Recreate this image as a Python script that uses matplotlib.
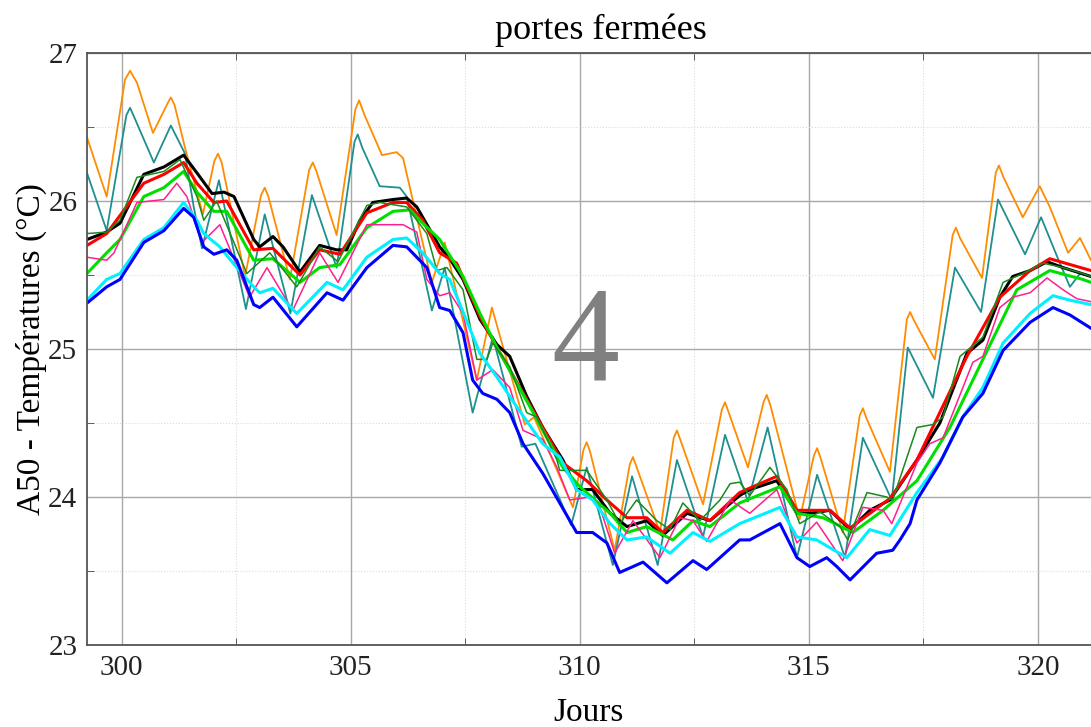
import matplotlib
matplotlib.use("Agg")
import matplotlib.pyplot as plt
from matplotlib.ticker import MultipleLocator

# ---- data (days, °C) ----
orange_x = [299.24, 299.67, 300.07, 300.18, 300.33, 300.68, 301.00, 301.07, 301.15, 301.38, 301.77, 302.02,
            302.10, 302.18, 302.69, 303.04, 303.12, 303.20, 303.67, 304.09, 304.17, 304.25,
            304.69, 305.10, 305.18, 305.30, 305.68, 306.00, 306.14, 306.77, 307.05, 307.75, 308.08, 308.80,
            309.00, 309.85, 310.08, 310.15, 310.22, 310.76, 311.09, 311.16, 311.23, 311.75, 312.05, 312.12,
            312.19, 312.69, 313.10, 313.17, 313.24, 313.67, 314.01, 314.08, 314.16, 314.80, 315.11, 315.18,
            315.25, 315.74, 316.11, 316.18, 316.26, 316.77, 317.14, 317.21, 317.30, 317.75, 318.14, 318.21,
            318.30, 318.78, 319.08, 319.15, 319.25, 319.67, 320.04, 320.26, 320.66, 320.92, 321.16]
orange_y = [26.43, 26.03, 26.82, 26.88, 26.80, 26.46, 26.66, 26.70, 26.65, 26.36, 25.91, 26.27,
            26.32, 26.26, 25.49, 26.04, 26.09, 26.03, 25.47, 26.21, 26.26, 26.20,
            25.77, 26.62, 26.68, 26.58, 26.31, 26.33, 26.29, 25.45, 25.72, 24.79, 25.28, 24.49,
            24.54, 23.93, 24.32, 24.37, 24.31, 23.64, 24.22, 24.27, 24.21, 23.76, 24.40, 24.45,
            24.39, 23.95, 24.59, 24.64, 24.58, 24.20, 24.64, 24.69, 24.62, 23.85, 24.28, 24.33,
            24.27, 23.76, 24.55, 24.60, 24.53, 24.17, 25.20, 25.25, 25.19, 24.93, 25.77, 25.82,
            25.75, 25.48, 26.19, 26.24, 26.16, 25.89, 26.10, 25.96, 25.65, 25.75, 25.60]

teal_x = [299.24, 299.67, 300.10, 300.18, 300.28, 300.70, 301.07, 301.38, 301.57, 301.75, 302.12, 302.71,
          303.12, 303.68, 304.15, 304.69, 305.08, 305.15, 305.25, 305.63, 306.07, 306.22, 306.77, 307.05,
          307.66, 308.10, 308.73, 309.03, 309.81, 310.15, 310.72, 311.14, 311.70, 312.12, 312.69, 313.17,
          313.67, 314.10, 314.74, 315.18, 315.79, 316.18, 316.81, 317.16, 317.71, 318.19, 318.76, 319.13,
          319.72, 320.07, 320.48, 320.70, 320.92, 321.16]
teal_y = [26.19, 25.80, 26.58, 26.63, 26.56, 26.26, 26.51, 26.32, 25.96, 25.68, 26.14, 25.27,
          25.91, 25.24, 26.04, 25.55, 26.40, 26.45, 26.36, 26.10, 26.09, 26.03, 25.26, 25.55,
          24.57, 25.08, 24.34, 24.36, 23.81, 24.20, 23.54, 24.14, 23.54, 24.25, 23.73, 24.42,
          23.97, 24.47, 23.59, 24.15, 23.59, 24.40, 23.98, 25.01, 24.67, 25.55, 25.25, 26.01,
          25.64, 25.89, 25.58, 25.42, 25.51, 25.49]

black_x = [299.24, 299.67, 299.96, 300.48, 300.92, 301.35, 301.64, 301.97, 302.23, 302.45, 302.88, 303.01,
           303.30, 303.52, 303.89, 304.32, 304.69, 304.91, 305.20, 305.48, 305.92, 306.22, 306.44, 306.94,
           307.16, 307.45, 307.82, 308.19, 308.47, 308.84, 309.19, 309.63, 309.93, 310.28, 310.66, 311.03,
           311.46, 311.81, 312.34, 312.84, 313.49, 313.71, 314.30, 314.74, 315.02, 315.46, 315.90, 316.33,
           316.77, 317.36, 317.86, 318.45, 318.80, 319.17, 319.45, 319.83, 320.20, 320.55, 321.16]
black_y = [25.74, 25.79, 25.85, 26.18, 26.23, 26.31, 26.19, 26.05, 26.06, 26.03, 25.74, 25.69,
           25.76, 25.69, 25.52, 25.70, 25.67, 25.67, 25.87, 25.99, 26.01, 26.02, 25.96, 25.69,
           25.61, 25.47, 25.20, 25.03, 24.95, 24.68, 24.47, 24.25, 24.05, 24.05, 23.89, 23.80,
           23.84, 23.74, 23.89, 23.84, 24.01, 24.05, 24.11, 23.89, 23.89, 23.91, 23.78, 23.91,
           23.98, 24.25, 24.50, 24.97, 25.06, 25.35, 25.49, 25.53, 25.59, 25.55, 25.49]

red_x = [299.24, 299.67, 300.48, 300.92, 301.35, 301.64, 302.01, 302.29, 302.88, 303.30, 303.89, 304.32,
         304.76, 305.35, 305.92, 306.22, 306.57, 306.94, 307.31, 307.82, 308.19, 308.84, 309.63, 310.15,
         310.59, 311.03, 311.46, 311.81, 312.34, 312.84, 313.49, 314.30, 314.74, 315.46, 315.90, 316.77,
         317.36, 318.45, 319.17, 319.83, 320.26, 321.16]
red_y = [25.70, 25.78, 26.12, 26.18, 26.26, 26.12, 25.99, 26.00, 25.67, 25.68, 25.50, 25.67,
         25.64, 25.92, 25.99, 25.99, 25.87, 25.65, 25.58, 25.22, 25.01, 24.66, 24.23, 24.11,
         23.98, 23.86, 23.86, 23.76, 23.91, 23.84, 24.03, 24.14, 23.91, 23.91, 23.79, 23.99,
         24.25, 24.95, 25.35, 25.53, 25.61, 25.53]

lime_x = [299.24, 299.67, 299.96, 300.48, 300.92, 301.35, 301.64, 302.01, 302.29, 302.88, 303.30, 303.89,
          304.32, 304.76, 305.35, 305.92, 306.29, 306.57, 306.94, 307.45, 307.82, 308.19, 308.91, 309.63,
          310.00, 310.66, 311.03, 311.46, 312.03, 312.47, 312.84, 313.49, 314.37, 314.74, 315.31, 315.96,
          316.62, 317.36, 318.08, 318.80, 319.54, 320.26, 320.98, 321.16]
lime_y = [25.51, 25.65, 25.74, 26.03, 26.09, 26.20, 26.06, 25.93, 25.93, 25.60, 25.61, 25.45,
          25.55, 25.57, 25.82, 25.93, 25.94, 25.85, 25.74, 25.49, 25.24, 25.01, 24.61, 24.20,
          24.07, 23.89, 23.76, 23.80, 23.71, 23.84, 23.80, 23.96, 24.07, 23.89, 23.86, 23.76,
          23.91, 24.11, 24.47, 24.93, 25.40, 25.53, 25.47, 25.45]

dkgreen_x = [299.24, 299.67, 299.96, 300.33, 300.92, 301.27, 301.64, 301.79, 302.07, 302.73, 303.23, 303.82,
             304.32, 304.72, 305.35, 305.63, 306.22, 306.66, 306.88, 307.10, 307.45, 307.75, 307.97, 308.10,
             308.47, 308.84, 309.06, 309.50, 309.56, 310.15, 310.59, 310.87, 311.24, 311.68, 311.97, 312.25,
             312.62, 313.06, 313.28, 313.49, 313.71, 314.15, 314.52, 314.80, 315.24, 315.68, 315.85, 316.27,
             316.70, 316.83, 317.36, 317.71, 317.93, 318.30, 318.80, 319.24, 319.67, 320.11, 320.55, 320.98,
             321.16]
dkgreen_y = [25.78, 25.79, 25.87, 26.16, 26.20, 26.28, 26.03, 25.87, 26.00, 25.51, 25.65, 25.42,
             25.69, 25.59, 25.97, 25.99, 25.96, 25.78, 25.53, 25.55, 25.40, 24.93, 24.93, 25.04,
             24.88, 24.57, 24.54, 24.25, 24.18, 24.18, 23.98, 23.82, 23.98, 23.84, 23.78, 23.96,
             23.84, 23.98, 24.09, 24.10, 24.01, 24.20, 24.05, 23.82, 23.90, 23.80, 23.71, 24.03,
             24.00, 23.98, 24.47, 24.49, 24.54, 24.95, 25.08, 25.45, 25.51, 25.58, 25.55, 25.51,
             25.49]

pink_x = [299.24, 299.67, 299.83, 300.33, 300.92, 301.20, 301.42, 301.75, 302.14, 302.79, 303.17, 303.73,
          304.32, 304.72, 305.35, 306.14, 306.44, 306.66, 306.94, 307.16, 307.45, 307.75, 308.10, 308.47,
          308.76, 309.19, 309.50, 309.78, 310.22, 310.44, 310.76, 311.16, 311.75, 312.18, 312.47, 312.77,
          313.28, 313.71, 314.30, 314.74, 315.17, 315.74, 316.18, 316.62, 316.81, 317.36, 317.64, 317.93,
          318.58, 318.80, 319.17, 319.45, 319.83, 320.20, 320.55, 320.85, 321.16]
pink_y = [25.62, 25.60, 25.65, 25.99, 26.01, 26.12, 26.03, 25.72, 25.84, 25.35, 25.55, 25.26,
          25.65, 25.45, 25.84, 25.84, 25.79, 25.47, 25.36, 25.38, 25.24, 24.79, 24.86, 24.74,
          24.45, 24.39, 24.20, 23.98, 24.00, 23.93, 23.62, 23.84, 23.59, 23.86, 23.84, 23.70,
          23.98, 23.89, 24.05, 23.69, 23.83, 23.57, 23.93, 23.91, 23.82, 24.23, 24.36, 24.40,
          24.91, 24.95, 25.28, 25.35, 25.38, 25.48, 25.40, 25.34, 25.32]

cyan_x = [299.24, 299.67, 299.96, 300.48, 300.92, 301.35, 301.64, 301.79, 302.14, 302.51, 302.88, 303.01,
          303.30, 303.82, 304.48, 304.83, 305.35, 305.92, 306.22, 306.57, 306.94, 307.16, 307.82, 308.19,
          308.62, 309.19, 309.56, 309.93, 310.28, 310.66, 311.03, 311.46, 311.97, 312.47, 312.84, 313.49,
          314.37, 314.74, 315.17, 315.83, 316.33, 316.77, 317.36, 317.93, 318.36, 318.80, 319.24, 319.83,
          320.33, 320.70, 321.16]
cyan_y = [25.33, 25.47, 25.51, 25.74, 25.82, 25.99, 25.87, 25.78, 25.69, 25.55, 25.42, 25.38,
          25.41, 25.24, 25.45, 25.40, 25.62, 25.74, 25.75, 25.65, 25.51, 25.47, 24.97, 24.81,
          24.61, 24.36, 24.27, 24.05, 23.98, 23.82, 23.71, 23.73, 23.62, 23.76, 23.70, 23.82,
          23.93, 23.73, 23.71, 23.59, 23.78, 23.74, 24.03, 24.27, 24.54, 24.74, 25.04, 25.24,
          25.36, 25.33, 25.30]

blue_x = [299.24, 299.67, 299.96, 300.48, 300.92, 301.35, 301.57, 301.79, 302.01, 302.29, 302.51, 302.88,
          303.01, 303.30, 303.82, 304.48, 304.83, 305.35, 305.92, 306.22, 306.66, 306.94, 307.16, 307.45,
          307.66, 307.88, 308.19, 308.47, 308.76, 309.19, 309.56, 309.93, 310.28, 310.59, 310.87, 311.38,
          311.90, 312.47, 312.77, 313.49, 313.71, 314.37, 314.74, 315.02, 315.39, 315.61, 315.90, 316.48,
          316.83, 316.99, 317.21, 317.36, 317.86, 318.36, 318.80, 319.24, 319.83, 320.33, 320.70, 321.16]
blue_y = [25.31, 25.42, 25.47, 25.72, 25.80, 25.95, 25.89, 25.69, 25.64, 25.67, 25.60, 25.30,
          25.28, 25.35, 25.15, 25.38, 25.33, 25.55, 25.70, 25.69, 25.55, 25.28, 25.26, 25.11,
          24.79, 24.70, 24.66, 24.57, 24.36, 24.16, 23.96, 23.76, 23.76, 23.69, 23.49, 23.56,
          23.42, 23.57, 23.51, 23.71, 23.71, 23.82, 23.59, 23.53, 23.59, 23.53, 23.44, 23.62,
          23.64, 23.71, 23.82, 23.98, 24.23, 24.54, 24.70, 24.99, 25.18, 25.28, 25.23, 25.14]

x_ticks = [300, 305, 310, 315, 320]
y_ticks = [23, 24, 25, 26, 27]
title_text = "portes fermées"
xlabel_text = "Jours"
ylabel_text = "A50 - Températures (°C)"
panel_label = "4"

# ---- figure ----
plt.rcParams['font.family'] = ['Liberation Serif', 'DejaVu Serif']
fig = plt.figure(figsize=(10.91, 7.27), dpi=100)
ax = fig.add_axes([87/1091, 1-645/727, 1-87/1091, (645-53)/727])

series = [
    (orange_x, orange_y, '#ff8c00', 1.3),
    (teal_x, teal_y, '#1f8f8f', 1.3),
    (black_x, black_y, '#000000', 2.2),
    (red_x, red_y, '#ff0000', 2.2),
    (lime_x, lime_y, '#00e000', 2.2),
    (dkgreen_x, dkgreen_y, '#1a8a1a', 1.1),
    (pink_x, pink_y, '#ff2090', 1.1),
    (cyan_x, cyan_y, '#00f0ff', 2.2),
    (blue_x, blue_y, '#0000ff', 2.2),
]
for xs, ys, c, lw in series:
    ax.plot(xs, ys, color=c, lw=lw, solid_joinstyle='round')

ax.set_xlim(299.24, 321.16)
ax.set_ylim(23, 27)
ax.set_xticks(x_ticks)
ax.set_yticks(y_ticks)
ax.xaxis.set_minor_locator(MultipleLocator(2.5))
ax.yaxis.set_minor_locator(MultipleLocator(0.5))
ax.grid(which='major', color='#a8a8a8', lw=1.0, ls='-')
ax.grid(which='minor', color='#dcdcdc', lw=0.8, ls=':')
ax.set_axisbelow(True)
ax.tick_params(which='both', direction='in', top=True, right=False,
               labelsize=21, colors='#222222', pad=7)
ax.tick_params(which='major', length=0)
ax.tick_params(which='minor', length=5, color='#444444')
for lbl in ax.get_yticklabels():
    lbl.set_verticalalignment('center_baseline')
for side in ['left', 'bottom', 'top']:
    ax.spines[side].set_color('#555555')
    ax.spines[side].set_linewidth(1.3)
ax.spines['right'].set_visible(False)

t = ax.set_title(title_text, fontsize=26, pad=10)
t.set_x((601-87)/(1091-87))
ax.set_xlabel(xlabel_text, fontsize=24, labelpad=12)
ax.set_ylabel(ylabel_text, fontsize=24, labelpad=1)
ax.text(310.12, 24.79, panel_label, fontsize=98, color='#808080',
        ha='center', va='baseline')

fig.savefig('out.png', dpi=100, facecolor='white')
